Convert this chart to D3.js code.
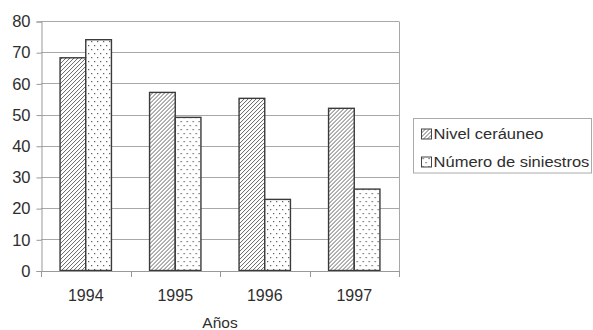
<!DOCTYPE html>
<html>
<head>
<meta charset="utf-8">
<script src="https://cdn.jsdelivr.net/npm/d3@7"></script>
<style>
  html, body { margin: 0; padding: 0; background: #fff; }
  svg { display: block; }
  svg text { font-family: "Liberation Sans", Arimo, Arial, Helvetica, sans-serif !important; fill: #2e2e2e; }
</style>
</head>
<body>
<svg id="chart" width="593" height="330"></svg>
<script>
// Datos: nivel ceráuneo y número de siniestros por año
const years = ["1994", "1995", "1996", "1997"];
const seriesNames = ["Nivel ceráuneo", "Número de siniestros"];
const nivelCeraunico = [68.2, 57.1, 55.2, 52.0];
const siniestros = [74.0, 49.1, 22.8, 26.1];
const yTicks = [0, 10, 20, 30, 40, 50, 60, 70, 80];
const xTitle = "Años";

const svg = d3.select("#chart");
const margin = { left: 41, right: 194, top: 21, bottom: 59.5 };
const W = 593, H = 330;
const FONT = "'Liberation Sans', Arimo, Arial, Helvetica, sans-serif";

// Patrones de relleno: rayado diagonal y punteado
const defs = svg.append("defs");
const hatch = defs.append("pattern")
  .attr("id", "hatch").attr("patternUnits", "userSpaceOnUse")
  .attr("width", 4).attr("height", 4);
hatch.append("rect").attr("width", 4).attr("height", 4).attr("fill", "#fff");
hatch.append("path")
  .attr("d", "M-1,1 l2,-2 M0,4 l4,-4 M3,5 l2,-2")
  .attr("stroke", "#555").attr("stroke-width", 0.9);

const dots = defs.append("pattern")
  .attr("id", "dots").attr("patternUnits", "userSpaceOnUse")
  .attr("width", 6).attr("height", 8);
dots.append("rect").attr("width", 6).attr("height", 8).attr("fill", "#fff");
dots.append("rect").attr("x", 1).attr("y", 1).attr("width", 1.2).attr("height", 1.2).attr("fill", "#555");
dots.append("rect").attr("x", 4).attr("y", 5).attr("width", 1.2).attr("height", 1.2).attr("fill", "#555");

const fills = ["url(#hatch)", "url(#dots)"];
const values = [nivelCeraunico, siniestros];

const x0 = d3.scaleBand()
  .domain(years)
  .range([margin.left, W - margin.right])
  .paddingInner(0.426)
  .paddingOuter(0.213);
const x1 = d3.scaleBand()
  .domain(d3.range(seriesNames.length))
  .range([0, x0.bandwidth()]);
const y = d3.scaleLinear()
  .domain([0, 80])
  .range([H - margin.bottom, margin.top]);

const plotL = margin.left, plotR = W - margin.right;
const gridColor = "#a8a8a8";

// Líneas de cuadrícula
svg.append("g").selectAll("line")
  .data(yTicks.filter(d => d > 0))
  .join("line")
  .attr("x1", plotL).attr("x2", plotR)
  .attr("y1", d => Math.round(y(d)) + 0.5).attr("y2", d => Math.round(y(d)) + 0.5)
  .attr("stroke", gridColor).attr("stroke-width", 1);

// Borde derecho del área de trazado
svg.append("line")
  .attr("x1", plotR + 0.5).attr("x2", plotR + 0.5)
  .attr("y1", Math.round(y(80)) + 0.5).attr("y2", Math.round(y(0)) + 0.5)
  .attr("stroke", gridColor);

// Eje Y
const yAxis = svg.append("g")
  .attr("transform", `translate(${plotL + 0.5},0.5)`)
  .call(d3.axisLeft(y).tickValues(yTicks).tickSize(5).tickPadding(6).tickFormat(d3.format("d")))
  .attr("font-family", FONT);
yAxis.select(".domain").attr("stroke", "#999");
yAxis.selectAll(".tick line").attr("stroke", "#999");
yAxis.selectAll(".tick text")
  .style("font-size", "16.5px").attr("fill", "#2e2e2e");

// Barras
const groups = svg.append("g").selectAll("g")
  .data(years)
  .join("g")
  .attr("transform", d => `translate(${x0(d)},0)`);
groups.selectAll("rect")
  .data((d, i) => values.map((v, s) => ({ s, v: v[i] })))
  .join("rect")
  .attr("x", d => x1(d.s))
  .attr("width", x1.bandwidth())
  .attr("y", d => y(d.v))
  .attr("height", d => y(0) - y(d.v))
  .attr("fill", d => fills[d.s])
  .attr("stroke", "#3a3a3a")
  .attr("stroke-width", 1.4);

// Eje X
const step = x0.step();
const xBounds = d3.range(years.length + 1).map(i => plotL + i * step);
const xg = svg.append("g");
xg.append("line")
  .attr("x1", plotL).attr("x2", plotR + 1)
  .attr("y1", Math.round(y(0)) + 0.5).attr("y2", Math.round(y(0)) + 0.5)
  .attr("stroke", "#999");
xg.selectAll("line.tk")
  .data(xBounds)
  .join("line").attr("class", "tk")
  .attr("x1", d => Math.round(d) + 0.5).attr("x2", d => Math.round(d) + 0.5)
  .attr("y1", Math.round(y(0)) + 0.5).attr("y2", Math.round(y(0)) + 6)
  .attr("stroke", "#999");
xg.selectAll("text")
  .data(years)
  .join("text")
  .attr("x", d => x0(d) + x0.bandwidth() / 2)
  .attr("y", y(0) + 30)
  .attr("text-anchor", "middle")
  .style("font-size", "16px")
  .text(d => d);

svg.append("text")
  .attr("x", (plotL + plotR) / 2)
  .attr("y", 327.5)
  .attr("text-anchor", "middle")
  .style("font-size", "15.5px")
  .text(xTitle);

// Leyenda
const lg = svg.append("g").attr("transform", "translate(413.5,118.5)");
lg.append("rect")
  .attr("width", 178).attr("height", 54.5)
  .attr("fill", "#fff").attr("stroke", "#aaa");
seriesNames.forEach((name, i) => {
  const row = lg.append("g").attr("transform", `translate(8,${10.5 + i * 28})`);
  row.append("rect")
    .attr("width", 10).attr("height", 10)
    .attr("fill", fills[i]).attr("stroke", "#444").attr("stroke-width", 1);
  row.append("text")
    .attr("x", 11).attr("y", 10)
    .attr("transform", "scale(1.1,1)")
    .style("font-size", "15px")
    .text(name);
});
</script>
</body>
</html>
